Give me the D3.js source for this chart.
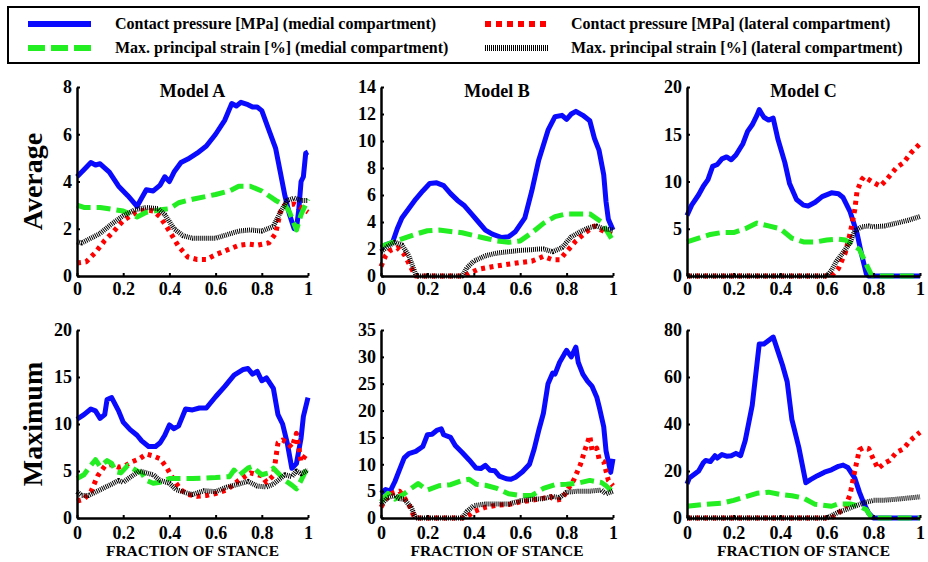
<!DOCTYPE html>
<html>
<head>
<meta charset="utf-8">
<script src="https://cdn.jsdelivr.net/npm/d3@7"></script>
<style>
  html, body { margin: 0; padding: 0; background: #fff; }
  svg { display: block; font-family: "Liberation Serif", "Times New Roman", serif; font-weight: bold; }
</style>
</head>
<body>
<svg id="chart" width="928" height="562"></svg>
<script>
// ---- Data: [fraction of stance, value] ----
// Average, Model A
const avgA_pMed = [[0,4.2],[0.03,4.5],[0.06,4.8],[0.08,4.7],[0.1,4.75],[0.14,4.4],[0.18,3.8],[0.22,3.4],[0.26,2.95],[0.28,3.3],[0.3,3.65],[0.33,3.6],[0.36,3.85],[0.38,4.2],[0.4,4.0],[0.42,4.4],[0.45,4.8],[0.48,4.95],[0.52,5.2],[0.56,5.5],[0.6,6.0],[0.64,6.6],[0.67,7.3],[0.69,7.2],[0.71,7.35],[0.74,7.25],[0.76,7.15],[0.78,7.15],[0.8,7.0],[0.83,6.2],[0.86,5.4],[0.88,4.4],[0.9,3.4],[0.92,2.6],[0.94,2.0],[0.95,2.0],[0.96,2.8],[0.97,4.0],[0.98,4.2],[0.99,5.2],[1,5.25]];
const avgA_pLat = [[0,0.55],[0.04,0.6],[0.08,1.0],[0.12,1.5],[0.16,1.9],[0.2,2.35],[0.24,2.6],[0.27,2.75],[0.3,2.8],[0.33,2.75],[0.36,2.5],[0.4,1.9],[0.44,1.25],[0.48,0.8],[0.52,0.7],[0.56,0.7],[0.6,0.9],[0.65,1.1],[0.7,1.3],[0.74,1.35],[0.78,1.3],[0.83,1.4],[0.86,1.8],[0.88,2.7],[0.9,3.0],[0.94,3.05],[0.97,2.9],[1,2.7]];
const avgA_sMed = [[0,3.0],[0.03,2.9],[0.1,2.9],[0.2,2.75],[0.26,2.5],[0.3,2.7],[0.36,2.8],[0.4,2.85],[0.44,3.1],[0.5,3.25],[0.6,3.45],[0.66,3.6],[0.7,3.8],[0.75,3.8],[0.8,3.6],[0.86,3.2],[0.9,3.0],[0.92,2.7],[0.95,1.95],[0.97,2.6],[1,3.25]];
const avgA_sLat = [[0,1.45],[0.02,1.4],[0.05,1.55],[0.1,1.8],[0.15,2.2],[0.2,2.55],[0.25,2.8],[0.3,2.9],[0.35,2.85],[0.38,2.6],[0.42,2.0],[0.46,1.7],[0.5,1.6],[0.6,1.6],[0.65,1.75],[0.7,1.9],[0.75,1.95],[0.8,1.9],[0.85,2.1],[0.88,2.7],[0.91,3.2],[0.94,3.3],[0.97,3.2],[1,3.2]];

// Average, Model B
const avgB_pMed = [[0,2.1],[0.02,2.3],[0.05,2.5],[0.07,3.5],[0.09,4.3],[0.12,5.0],[0.15,5.7],[0.18,6.3],[0.21,6.85],[0.24,6.9],[0.27,6.7],[0.3,6.1],[0.33,5.6],[0.36,5.2],[0.39,4.6],[0.42,4.0],[0.45,3.4],[0.48,3.1],[0.52,2.85],[0.55,2.9],[0.58,3.3],[0.62,4.3],[0.65,6.3],[0.68,8.6],[0.72,10.8],[0.75,11.8],[0.78,11.9],[0.8,11.6],[0.82,12.0],[0.84,12.2],[0.87,11.9],[0.9,11.5],[0.92,10.2],[0.94,9.3],[0.96,7.5],[0.97,5.5],[0.98,4.2],[1,3.4]];
const avgB_pLat = [[0,0.7],[0.02,1.5],[0.04,1.9],[0.07,2.1],[0.1,1.6],[0.13,0.6],[0.15,0],[0.36,0],[0.38,0.2],[0.42,0.5],[0.5,0.75],[0.6,1.0],[0.65,1.1],[0.7,1.45],[0.74,1.2],[0.77,1.2],[0.8,1.8],[0.84,2.6],[0.88,3.2],[0.92,3.7],[0.95,3.4],[1,3.0]];
const avgB_sMed = [[0,2.2],[0.05,2.5],[0.1,2.8],[0.15,3.1],[0.2,3.35],[0.25,3.4],[0.3,3.3],[0.35,3.2],[0.4,3.0],[0.45,2.8],[0.5,2.6],[0.55,2.5],[0.6,2.6],[0.65,3.2],[0.7,3.9],[0.75,4.4],[0.8,4.6],[0.85,4.6],[0.9,4.6],[0.95,4.0],[1,2.6]];
const avgB_sLat = [[0,1.8],[0.03,2.2],[0.06,2.5],[0.09,2.3],[0.12,1.5],[0.15,0.1],[0.16,0],[0.35,0],[0.37,0.6],[0.4,1.1],[0.45,1.5],[0.5,1.7],[0.55,1.8],[0.6,1.9],[0.65,1.95],[0.68,2.0],[0.7,2.0],[0.74,1.8],[0.78,2.1],[0.82,2.9],[0.86,3.3],[0.9,3.6],[0.93,3.7],[0.96,3.5],[1,3.4]];

// Average, Model C
const avgC_pMed = [[0,6.4],[0.02,7.5],[0.05,8.6],[0.07,9.5],[0.09,10.2],[0.11,11.6],[0.13,11.8],[0.15,12.4],[0.17,12.6],[0.19,12.3],[0.21,12.8],[0.24,14.0],[0.26,15.3],[0.28,16.0],[0.3,17.0],[0.31,17.6],[0.33,16.8],[0.35,16.5],[0.37,16.7],[0.39,14.5],[0.42,12.0],[0.44,9.8],[0.47,8.1],[0.5,7.5],[0.52,7.4],[0.55,7.8],[0.58,8.4],[0.62,8.8],[0.65,8.7],[0.67,8.3],[0.7,6.8],[0.73,4.5],[0.75,2.2],[0.77,0.2],[0.78,0],[1,0]];
const avgC_pLat = [[0,0],[0.62,0],[0.65,0.8],[0.68,2.5],[0.7,4.5],[0.72,7.0],[0.73,9.0],[0.75,10.2],[0.76,10.5],[0.8,9.9],[0.83,9.5],[0.86,10.3],[0.9,11.5],[0.93,12.0],[0.96,13.0],[1,14.0]];
const avgC_sMed = [[0,3.6],[0.05,4.0],[0.1,4.4],[0.15,4.6],[0.2,4.6],[0.25,5.0],[0.3,5.6],[0.35,5.3],[0.4,5.0],[0.45,4.0],[0.5,3.6],[0.55,3.6],[0.6,3.8],[0.65,3.9],[0.68,3.8],[0.7,3.5],[0.74,2.8],[0.77,1.2],[0.79,0.2],[0.8,0],[1,0]];
const avgC_sLat = [[0,0],[0.6,0],[0.62,0.6],[0.64,1.5],[0.67,2.5],[0.7,3.5],[0.72,4.8],[0.75,5.2],[0.78,5.3],[0.8,5.2],[0.85,5.3],[0.9,5.6],[0.95,5.9],[1,6.3]];

// Maximum, Model A
const maxA_pMed = [[0,10.5],[0.03,11.0],[0.06,11.6],[0.08,11.4],[0.1,10.6],[0.12,11.0],[0.13,12.6],[0.15,12.8],[0.18,11.4],[0.2,10.2],[0.23,9.4],[0.26,8.8],[0.28,8.2],[0.31,7.6],[0.34,7.6],[0.36,8.0],[0.38,8.8],[0.4,9.9],[0.42,9.5],[0.44,9.8],[0.47,11.6],[0.5,11.5],[0.53,11.7],[0.56,11.7],[0.6,12.9],[0.64,14.0],[0.68,15.2],[0.72,15.8],[0.74,15.9],[0.76,15.3],[0.78,15.6],[0.8,14.6],[0.82,14.9],[0.85,13.8],[0.87,11.0],[0.89,10.0],[0.91,8.0],[0.93,5.3],[0.95,5.8],[0.97,8.5],[0.98,10.8],[1,12.8]];
const maxA_pLat = [[0,1.8],[0.03,2.0],[0.06,2.8],[0.09,4.5],[0.12,5.5],[0.15,5.7],[0.18,5.4],[0.21,5.6],[0.24,6.0],[0.27,6.3],[0.3,6.8],[0.33,6.6],[0.36,6.3],[0.39,5.3],[0.42,4.0],[0.45,3.0],[0.48,2.5],[0.52,2.3],[0.56,2.4],[0.6,2.6],[0.65,3.0],[0.7,4.0],[0.75,4.8],[0.8,4.5],[0.82,3.8],[0.85,4.5],[0.87,8.0],[0.89,8.3],[0.91,8.0],[0.93,7.5],[0.95,9.0],[0.97,6.0],[1,7.0]];
const maxA_sMed = [[0,4.2],[0.03,4.6],[0.06,5.6],[0.08,6.2],[0.1,5.5],[0.13,6.1],[0.15,5.8],[0.17,4.9],[0.19,4.8],[0.22,5.6],[0.26,5.0],[0.28,4.8],[0.3,4.0],[0.33,3.7],[0.36,3.8],[0.38,4.0],[0.4,4.2],[0.45,4.2],[0.5,4.2],[0.6,4.3],[0.66,4.4],[0.68,5.1],[0.7,4.5],[0.74,5.3],[0.76,5.5],[0.78,5.0],[0.8,4.6],[0.83,4.8],[0.85,5.3],[0.87,4.8],[0.9,4.0],[0.93,3.5],[0.95,3.1],[0.97,4.0],[1,5.5]];
const maxA_sLat = [[0,2.8],[0.02,2.4],[0.05,2.4],[0.1,3.0],[0.15,3.6],[0.18,4.0],[0.2,3.8],[0.24,4.5],[0.27,5.0],[0.3,4.8],[0.33,4.6],[0.36,4.0],[0.4,3.7],[0.43,3.0],[0.47,2.7],[0.5,2.5],[0.55,2.9],[0.6,2.8],[0.65,3.3],[0.7,3.6],[0.74,3.9],[0.78,3.4],[0.82,3.3],[0.85,3.6],[0.88,4.2],[0.9,4.6],[0.93,4.4],[0.95,5.0],[0.97,4.7],[1,5.1]];

// Maximum, Model B
const maxB_pMed = [[0,4.6],[0.02,5.3],[0.04,5.0],[0.06,6.8],[0.08,9.0],[0.1,11.2],[0.12,12.0],[0.15,12.4],[0.18,13.3],[0.2,15.5],[0.22,15.6],[0.24,16.3],[0.26,16.6],[0.27,15.5],[0.3,15.0],[0.32,13.5],[0.35,12.2],[0.38,10.8],[0.41,9.3],[0.43,9.2],[0.45,9.8],[0.47,8.9],[0.49,8.8],[0.51,7.8],[0.54,7.3],[0.56,7.2],[0.58,7.6],[0.61,8.6],[0.64,10.0],[0.66,12.8],[0.68,16.3],[0.7,19.5],[0.72,25.0],[0.74,27.0],[0.75,26.8],[0.77,29.0],[0.79,30.5],[0.8,31.2],[0.82,30.0],[0.84,31.8],[0.85,29.0],[0.87,26.8],[0.89,25.5],[0.91,24.5],[0.93,22.5],[0.94,20.8],[0.96,17.0],[0.97,12.5],[0.99,8.5],[1,11.0]];
const maxB_pLat = [[0,2.0],[0.02,3.5],[0.04,4.5],[0.06,4.8],[0.08,5.0],[0.1,3.8],[0.12,2.5],[0.14,0.5],[0.15,0],[0.36,0],[0.38,0.5],[0.4,1.2],[0.45,2.0],[0.5,2.4],[0.55,2.5],[0.6,3.0],[0.65,3.3],[0.7,3.7],[0.73,4.0],[0.75,3.3],[0.78,3.5],[0.8,5.0],[0.83,7.0],[0.86,10.0],[0.88,12.8],[0.9,15.3],[0.91,12.5],[0.93,13.0],[0.94,11.0],[0.96,10.5],[0.98,7.0],[1,6.0]];
const maxB_sMed = [[0,3.0],[0.03,4.6],[0.06,3.5],[0.1,4.5],[0.13,5.5],[0.16,6.4],[0.2,5.2],[0.25,6.0],[0.3,6.2],[0.35,7.0],[0.38,7.2],[0.41,6.3],[0.45,6.1],[0.5,5.5],[0.55,4.5],[0.6,4.2],[0.65,4.2],[0.7,5.5],[0.75,6.2],[0.8,6.3],[0.85,6.5],[0.9,7.0],[0.95,6.6],[0.97,6.0],[1,4.8]];
const maxB_sLat = [[0,2.5],[0.03,3.8],[0.06,4.2],[0.08,3.6],[0.1,3.5],[0.13,2.0],[0.15,0],[0.35,0],[0.37,1.2],[0.4,2.3],[0.45,2.6],[0.5,2.6],[0.55,2.6],[0.6,3.2],[0.65,3.5],[0.7,3.6],[0.74,4.0],[0.77,3.8],[0.8,4.8],[0.85,5.0],[0.9,5.0],[0.95,5.2],[0.97,4.5],[1,5.0]];

// Maximum, Model C
const maxC_pMed = [[0,14.5],[0.01,17.0],[0.03,18.5],[0.05,20.0],[0.07,23.5],[0.08,24.5],[0.1,24.0],[0.12,26.5],[0.13,25.5],[0.15,27.0],[0.17,26.3],[0.19,26.5],[0.21,27.5],[0.22,27.0],[0.23,26.5],[0.25,33.0],[0.28,48.0],[0.31,74.0],[0.33,74.0],[0.35,75.5],[0.37,77.0],[0.39,71.0],[0.41,65.0],[0.43,58.0],[0.45,42.0],[0.48,30.0],[0.5,20.0],[0.51,15.0],[0.53,16.3],[0.56,18.0],[0.59,19.5],[0.62,20.5],[0.65,22.0],[0.67,22.5],[0.69,21.5],[0.72,17.0],[0.74,11.0],[0.76,6.0],[0.78,2.0],[0.8,0],[1,0]];
const maxC_pLat = [[0,0],[0.62,0],[0.65,2.0],[0.68,5.0],[0.7,10.0],[0.72,20.0],[0.74,29.0],[0.76,30.0],[0.78,29.5],[0.8,25.0],[0.82,21.0],[0.85,23.5],[0.87,24.5],[0.9,28.0],[0.93,29.5],[0.95,32.0],[0.97,34.0],[1,36.5]];
const maxC_sMed = [[0,5.0],[0.05,5.5],[0.1,6.0],[0.15,6.3],[0.2,7.5],[0.25,9.0],[0.3,10.5],[0.35,11.0],[0.4,10.0],[0.45,9.5],[0.5,8.5],[0.55,5.8],[0.58,5.5],[0.62,5.0],[0.65,6.0],[0.7,6.0],[0.74,5.0],[0.77,3.5],[0.79,0.5],[0.8,0],[1,0]];
const maxC_sLat = [[0,0],[0.6,0],[0.62,1.0],[0.65,2.5],[0.68,3.5],[0.72,5.0],[0.76,6.5],[0.8,7.5],[0.85,7.6],[0.9,8.0],[0.95,8.5],[1,9.0]];

// Axis ticks
const xTicks = [0, 0.2, 0.4, 0.6, 0.8, 1];
const yTicksAvgA = [0, 2, 4, 6, 8];
const yTicksAvgB = [0, 2, 4, 6, 8, 10, 12, 14];
const yTicksAvgC = [0, 5, 10, 15, 20];
const yTicksMaxA = [0, 5, 10, 15, 20];
const yTicksMaxB = [0, 5, 10, 15, 20, 25, 30, 35];
const yTicksMaxC = [0, 20, 40, 60, 80];

const modelNames = ["Model A", "Model B", "Model C"];
const rowNames = ["Average", "Maximum"];
const seriesNames = [
  "Contact pressure [MPa] (medial compartment)",
  "Contact pressure [MPa] (lateral compartment)",
  "Max. principal strain [%] (medial compartment)",
  "Max. principal strain [%] (lateral compartment)"
];
const xLabel = "FRACTION OF STANCE";

// ---- Styles for the four series ----
const seriesStyle = [
  { color: "#0a0aff", width: 5, dash: null },
  { color: "#ff0000", width: 5, dash: "4,4.5" },
  { color: "#22ee22", width: 5, dash: "14,6" },
  { color: "#000000", width: 5, dash: "1,1" }
];
// drawing order: medial pressure, lateral pressure, medial strain, lateral strain
const drawOrder = [0, 1, 2, 3];

const panels = [
  { row: 0, col: 0, ticks: yTicksAvgA, series: [avgA_pMed, avgA_pLat, avgA_sMed, avgA_sLat] },
  { row: 0, col: 1, ticks: yTicksAvgB, series: [avgB_pMed, avgB_pLat, avgB_sMed, avgB_sLat] },
  { row: 0, col: 2, ticks: yTicksAvgC, series: [avgC_pMed, avgC_pLat, avgC_sMed, avgC_sLat] },
  { row: 1, col: 0, ticks: yTicksMaxA, series: [maxA_pMed, maxA_pLat, maxA_sMed, maxA_sLat] },
  { row: 1, col: 1, ticks: yTicksMaxB, series: [maxB_pMed, maxB_pLat, maxB_sMed, maxB_sLat] },
  { row: 1, col: 2, ticks: yTicksMaxC, series: [maxC_pMed, maxC_pLat, maxC_sMed, maxC_sLat] }
];

// ---- Layout ----
const colX = [[77, 308], [381, 613], [687, 920]];
const rowY = [[276, 87], [518, 330]];

const svg = d3.select("#chart");

// Legend box
const legend = svg.append("g");
legend.append("rect")
  .attr("x", 8).attr("y", 7).attr("width", 911).attr("height", 56)
  .attr("fill", "#fff").attr("stroke", "#000").attr("stroke-width", 2);

const legendPos = [
  { sx: 28, tx: 115, y: 24 },
  { sx: 485, tx: 571, y: 24 },
  { sx: 28, tx: 115, y: 48 },
  { sx: 485, tx: 571, y: 48 }
];
seriesNames.forEach((name, i) => {
  const p = legendPos[i], st = seriesStyle[i];
  legend.append("line")
    .attr("x1", p.sx).attr("x2", p.sx + 63)
    .attr("y1", p.y).attr("y2", p.y)
    .attr("stroke", st.color)
    .attr("stroke-width", 6)
    .attr("stroke-dasharray", i === 1 ? "6,5" : i === 2 ? "17,6" : i === 3 ? "1,1" : null);
  legend.append("text")
    .attr("x", p.tx).attr("y", p.y + 5)
    .attr("font-size", 16)
    .text(name);
});

// Panels
panels.forEach(pn => {
  const [x0, x1] = colX[pn.col];
  const [y0, y1] = rowY[pn.row];
  const yMax = pn.ticks[pn.ticks.length - 1];
  const x = d3.scaleLinear().domain([0, 1]).range([x0, x1]);
  const y = d3.scaleLinear().domain([0, yMax]).range([y0, y1]);
  const g = svg.append("g");

  const line = d3.line().x(d => x(d[0])).y(d => y(d[1]));
  drawOrder.forEach(si => {
    const st = seriesStyle[si];
    g.append("path")
      .datum(pn.series[si])
      .attr("d", line)
      .attr("fill", "none")
      .attr("stroke", st.color)
      .attr("stroke-width", st.width)
      .attr("stroke-linejoin", "round")
      .attr("stroke-dasharray", st.dash);
  });

  const xAxis = g.append("g")
    .attr("transform", `translate(0,${y0})`)
    .call(d3.axisBottom(x).tickValues(xTicks).tickFormat(d3.format("~g"))
      .tickSizeInner(-3).tickSizeOuter(0).tickPadding(pn.row === 0 ? 6 : 8));
  const yAxis = g.append("g")
    .attr("transform", `translate(${x0},0)`)
    .call(d3.axisLeft(y).tickValues(pn.ticks).tickFormat(d3.format("~g"))
      .tickSizeInner(-3).tickSizeOuter(0).tickPadding(5));
  [xAxis, yAxis].forEach(a => {
    a.select(".domain").attr("stroke", "#000").attr("stroke-width", 2.5);
    a.selectAll(".tick line").attr("stroke", "#000").attr("stroke-width", 2);
    a.selectAll("text")
      .attr("font-family", "Liberation Serif, Times New Roman, serif")
      .attr("font-weight", "bold")
      .attr("font-size", 18)
      .attr("fill", "#000");
  });

  if (pn.row === 0) {
    g.append("text")
      .attr("x", (x0 + x1) / 2).attr("y", y1 + 10)
      .attr("text-anchor", "middle").attr("font-size", 18)
      .text(modelNames[pn.col]);
  } else {
    g.append("text")
      .attr("x", (x0 + x1) / 2).attr("y", 556)
      .attr("text-anchor", "middle").attr("font-size", 15.5)
      .text(xLabel);
  }
});

// Row labels
rowNames.forEach((name, r) => {
  const cy = (rowY[r][0] + rowY[r][1]) / 2;
  svg.append("text")
    .attr("transform", `translate(42,${cy}) rotate(-90)`)
    .attr("text-anchor", "middle")
    .attr("font-size", 28)
    .text(name);
});
</script>
</body>
</html>
